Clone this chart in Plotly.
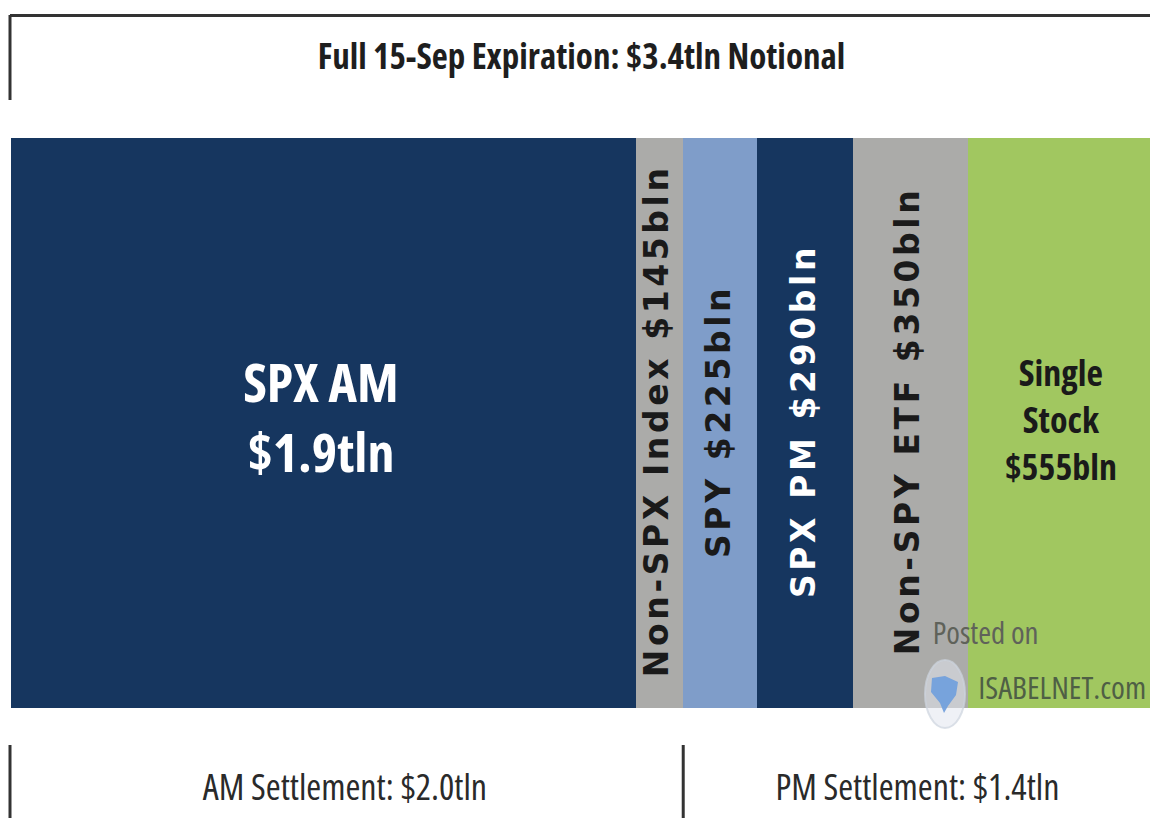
import plotly.graph_objects as go

segments = ["SPX AM", "Non-SPX Index", "SPY", "SPX PM", "Non-SPY ETF", "Single Stock"]
notional_bln = [1900, 145, 225, 290, 350, 555]
colors = ["#16365F", "#ABABA9", "#7F9DC9", "#16365F", "#ABABA9", "#A1C760"]
labels = ["SPX AM<br>$1.9tln", "Non-SPX Index $145bln", "SPY $225bln", "SPX PM $290bln",
          "Non-SPY ETF $350bln", "Single<br>Stock<br>$555bln"]
label_colors = ["#FFFFFF", "#1A1A1A", "#1A1A1A", "#FFFFFF", "#1A1A1A", "#1A1A1A"]
label_angles = [0, -90, -90, -90, -90, 0]
label_sizes = [54, 33, 33, 33, 33, 36]
label_yshift = [-5, 0, 0, 0, 0, -2]
label_xshift = [-2, -3, -2, -2, -3, 2]
title_text = "Full 15-Sep Expiration: $3.4tln Notional"
am_text = "AM Settlement: $2.0tln"
pm_text = "PM Settlement: $1.4tln"

W, H = 1150, 818
L, R, T, B = 11, 0, 138, 110
NARROW = "Open Sans"


def py(pixel):
    return (H - B - pixel) / (H - T - B)


def px(pixel):
    return (pixel - L) / (W - L - R)


fig = go.Figure()
for name, value, color in zip(segments, notional_bln, colors):
    fig.add_trace(go.Bar(y=["Expiry"], x=[value], name=name, orientation="h",
                         marker=dict(color=color, line=dict(width=0)),
                         showlegend=False, hoverinfo="name+x"))

total = sum(notional_bln)
start = 0
centers = []
for value in notional_bln:
    centers.append(start + value / 2)
    start += value
am_end = sum(notional_bln[:2])

annotations = []
for c, label, col, ang, size, xs, ys in zip(centers, labels, label_colors, label_angles,
                                            label_sizes, label_xshift, label_yshift):
    rotated = ang != 0
    annotations.append(dict(
        x=c, y=py(421), xref="x", yref="paper", text=label, showarrow=False,
        xanchor="center", yanchor="middle",
        textangle=ang, xshift=xs, yshift=-ys, align="center",
        font=dict(family="DejaVu Sans" if rotated else NARROW, size=size, color=col, weight="bold"),
    ))


def note(x, y, text, size, color, weight="normal"):
    return dict(x=px(x), y=py(y), xref="paper", yref="paper", text=text, showarrow=False,
                xanchor="center", yanchor="middle",
                font=dict(family=NARROW, size=size, color=color, weight=weight))


annotations += [
    note(581, 55, title_text, 35, "#1E1E1E", "bold"),
    note(345, 786, am_text, 36, "#2A2A2A"),
    note(917, 786, pm_text, 36, "#2A2A2A"),
    note(985, 632, "Posted on", 31, "#5F625A"),
    note(1062, 686, "ISABELNET.com", 31.5, "#4F5F45"),
]


def poly(points):
    return "M " + " L ".join(f"{px(a):.5f} {py(b):.5f}" for a, b in points) + " Z"


line = dict(color="#333333", width=3)
shapes = [
    dict(type="line", xref="paper", yref="paper", x0=px(10), x1=1, y0=py(15.5), y1=py(15.5), line=line),
    dict(type="line", xref="paper", yref="paper", x0=px(10), x1=px(10), y0=py(15), y1=py(100), line=line),
    dict(type="line", xref="paper", yref="paper", x0=px(10), x1=px(10), y0=py(745), y1=py(818), line=line),
    dict(type="line", xref="x", yref="paper", x0=am_end, x1=am_end, y0=py(745), y1=py(818), line=line),
    dict(type="circle", xref="paper", yref="paper", x0=px(925), x1=px(965), y0=py(728), y1=py(660),
         fillcolor="rgba(225,230,238,0.55)", line=dict(color="rgba(205,212,222,0.7)", width=2)),
    dict(type="path", xref="paper", yref="paper",
         path=poly([(932, 678), (945, 676), (958, 682), (956, 695), (948, 706), (944, 713), (940, 703), (931, 692)]),
         fillcolor="rgba(115,160,220,0.95)", line=dict(width=0)),
]

fig.update_layout(
    width=W, height=H, barmode="stack", bargap=0,
    margin=dict(l=L, r=R, t=T, b=B, pad=0),
    paper_bgcolor="white", plot_bgcolor="white",
    xaxis=dict(range=[0, total], visible=False, fixedrange=True),
    yaxis=dict(visible=False, fixedrange=True),
    annotations=annotations, shapes=shapes,
)
css = ("text.annotation-text[style*='Open Sans']{font-stretch:75%;}"
       "text.annotation-text[style*='DejaVu Sans']{letter-spacing:3.6px;}")
fig.write_html("out.html", config={"displayModeBar": False},
               post_script="document.body.style.margin='0';document.body.style.overflow='hidden';"
                           "var s=document.createElement('style');s.textContent=\"" + css + "\";document.head.appendChild(s);")
